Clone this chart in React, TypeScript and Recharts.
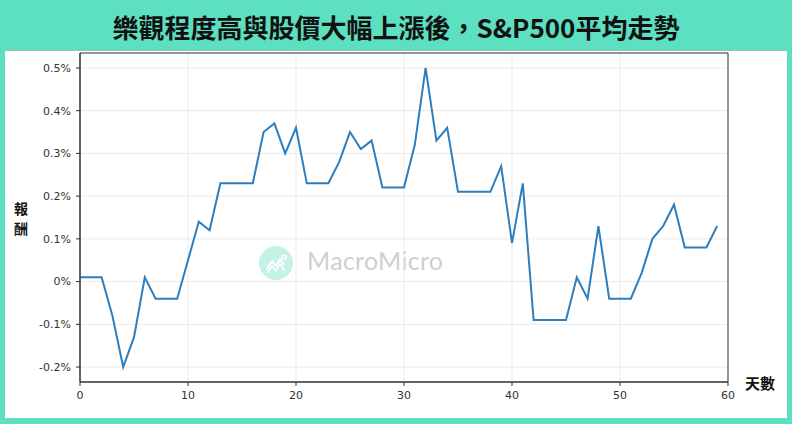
import React from 'react';
import { LineChart, Line, XAxis, YAxis, CartesianGrid, ReferenceArea, Label } from 'recharts';

const days = [
  0, 1, 2, 3, 4, 5, 6, 7, 8, 9, 10, 11, 12, 13, 14, 15, 16, 17, 18, 19,
  20, 21, 22, 23, 24, 25, 26, 27, 28, 29, 30, 31, 32, 33, 34, 35, 36, 37, 38, 39,
  40, 41, 42, 43, 44, 45, 46, 47, 48, 49, 50, 51, 52, 53, 54, 55, 56, 57, 58, 59,
];
const avgReturn = [
  0.01, 0.01, 0.01, -0.08, -0.2, -0.13, 0.01, -0.04, -0.04, -0.04,
  0.05, 0.14, 0.12, 0.23, 0.23, 0.23, 0.23, 0.35, 0.37, 0.3,
  0.36, 0.23, 0.23, 0.23, 0.28, 0.35, 0.31, 0.33, 0.22, 0.22,
  0.22, 0.32, 0.5, 0.33, 0.36, 0.21, 0.21, 0.21, 0.21, 0.27,
  0.09, 0.23, -0.09, -0.09, -0.09, -0.09, 0.01, -0.04, 0.13, -0.04,
  -0.04, -0.04, 0.02, 0.1, 0.13, 0.18, 0.08, 0.08, 0.08, 0.13,
];
const xTicks = [0, 10, 20, 30, 40, 50, 60];
const yTicks = [-0.2, -0.1, 0, 0.1, 0.2, 0.3, 0.4, 0.5];
const xDomain = [0, 60];
const yDomain = [-0.235, 0.535];

const TITLE = '樂觀程度高與股價大幅上漲後，S&P500平均走勢';
const Y_LABEL = ['報', '酬'];
const X_LABEL = '天數';

const data = days.map((d, i) => ({ day: d, ret: avgReturn[i] }));

const TEAL = '#5ddfc1';
const tickStyle = { fill: '#333', fontSize: 11, fontFamily: 'DejaVu Sans, sans-serif' };
const labelFont = '"Noto Sans CJK TC", "Noto Sans", sans-serif';

const YLabel = (props: any) => {
  const vb = props.viewBox || { x: 20, y: 53, width: 60, height: 329 };
  const cx = vb.x + 1;
  return (
    <text x={cx} y={vb.y + 161} textAnchor="middle" fontSize={14} fontWeight={700} fill="#111" fontFamily={labelFont}>
      <tspan x={cx} dy={0}>{Y_LABEL[0]}</tspan>
      <tspan x={cx} dy={20}>{Y_LABEL[1]}</tspan>
    </text>
  );
};

const XLabel = (props: any) => {
  const vb = props.viewBox || { x: 80, y: 382, width: 648, height: 30 };
  return (
    <text x={vb.x + vb.width + 32} y={vb.y + 7} textAnchor="middle" fontSize={15} fontWeight={700} fill="#111" fontFamily={labelFont}>
      {X_LABEL}
    </text>
  );
};

export default function App() {
  return (
    <div style={{ position: 'absolute', left: 0, top: 0, width: 792, height: 424, background: TEAL, overflow: 'hidden' }}>
      <div
        style={{
          position: 'absolute', left: 0, top: 1, width: 792, height: 50,
          display: 'flex', alignItems: 'center', justifyContent: 'center',
          fontFamily: labelFont, fontWeight: 700, fontSize: 26, color: '#111',
        }}
      >
        {TITLE}
      </div>
      <div
        style={{
          position: 'absolute', left: 5, top: 50, width: 782, height: 368,
          background: '#fff', borderTop: '1px solid #a9b8b4', boxSizing: 'border-box',
        }}
      />
      <div style={{ position: 'absolute', left: 259, top: 246, width: 34, height: 34, borderRadius: '50%', background: '#c4f2e7' }}>
        <svg width={34} height={34} viewBox="0 0 34 34">
          <polyline points="8,23 13,15 17,20 21,13 25,19" fill="none" stroke="#fff" strokeWidth={2} strokeLinejoin="round" />
          <polyline points="8,27 13,20 17,25 21,18 26,25" fill="none" stroke="#fff" strokeWidth={1.5} strokeLinejoin="round" />
          <circle cx={25} cy={11} r={2} fill="none" stroke="#fff" strokeWidth={1.5} />
        </svg>
      </div>
      <div
        style={{
          position: 'absolute', left: 307, top: 245, height: 30, lineHeight: '30px',
          fontFamily: 'Lato, "Open Sans", sans-serif', fontSize: 25, color: '#cfcfcf', letterSpacing: 0.3,
        }}
      >
        MacroMicro
      </div>
      <div style={{ position: 'absolute', left: 0, top: 0 }}>
        <LineChart width={792} height={424} data={data} margin={{ top: 53, right: 64, bottom: 12, left: 20 }}>
          <CartesianGrid stroke="#ebebeb" strokeWidth={1} />
          <XAxis
            dataKey="day"
            type="number"
            domain={xDomain}
            ticks={xTicks}
            allowDataOverflow
            height={30}
            tickSize={4}
            tickMargin={5}
            tick={tickStyle}
            axisLine={{ stroke: '#333' }}
            tickLine={{ stroke: '#333' }}
          >
            <Label content={<XLabel />} />
          </XAxis>
          <YAxis
            type="number"
            domain={yDomain}
            ticks={yTicks}
            allowDataOverflow
            width={60}
            tickSize={4}
            tickMargin={5}
            tick={tickStyle}
            tickFormatter={(v: number) => `${v}%`}
            axisLine={{ stroke: '#333' }}
            tickLine={{ stroke: '#333' }}
          >
            <Label content={<YLabel />} />
          </YAxis>
          <ReferenceArea x1={xDomain[0]} x2={xDomain[1]} y1={yDomain[0]} y2={yDomain[1]} fill="none" stroke="#333" strokeWidth={1} />
          <Line
            type="linear"
            dataKey="ret"
            stroke="#2e7ebd"
            strokeWidth={2}
            dot={false}
            activeDot={false}
            isAnimationActive={false}
          />
        </LineChart>
      </div>
    </div>
  );
}
